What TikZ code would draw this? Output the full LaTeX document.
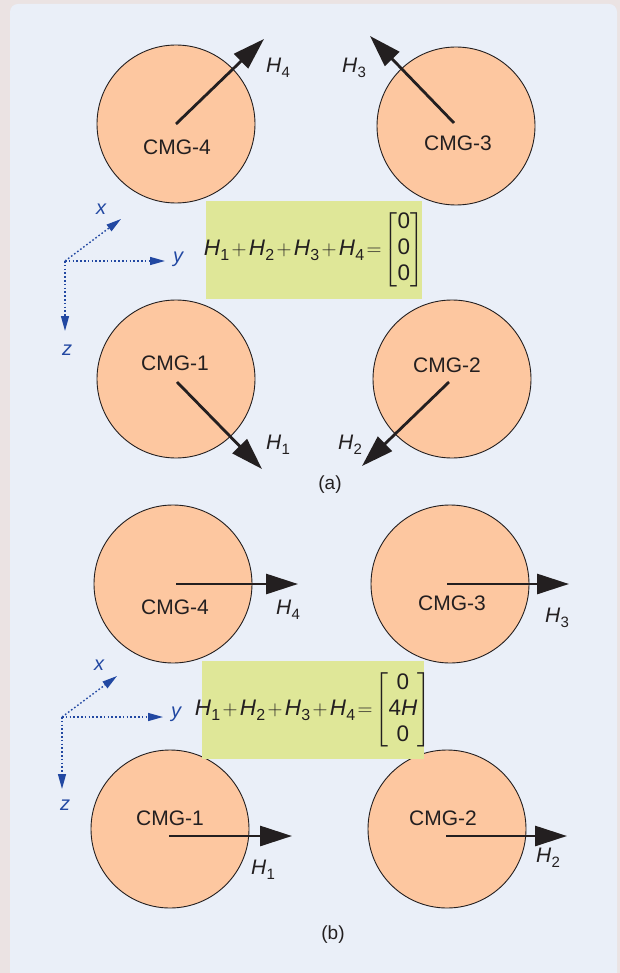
\documentclass[tikz,border=0pt]{standalone}
\usepackage{fontspec}
\setmainfont{Liberation Sans}
\usepackage{amsmath}
\usetikzlibrary{arrows.meta}
\definecolor{outerbg}{HTML}{EBE3E3}
\definecolor{panelbg}{HTML}{EAEFF8}
\definecolor{peach}{HTML}{FDC7A0}
\definecolor{eqbg}{HTML}{DFE798}
\definecolor{axblue}{HTML}{2248A2}
\definecolor{ink}{HTML}{231F20}
\newcommand{\Hsub}[1]{\textit{H}\kern0.3pt\raisebox{-0.45ex}{\fontsize{15}{15}\selectfont #1}}
\newcommand{\Hsubeq}[1]{\textit{H}\kern0.3pt\raisebox{-0.45ex}{\fontsize{16}{16}\selectfont #1}}
\newcommand{\eqsum}[2]{\makebox[#1][c]{\medmuskip=2mu\thickmuskip=2mu$\Hsubeq{1}+\Hsubeq{2}+\Hsubeq{3}+\Hsubeq{4}=\left[\begin{array}{@{}c@{}}#2\end{array}\right]$}}
\tikzset{
  cmg/.style={circle, draw=ink, line width=0.9pt, fill=peach, minimum size=158pt, inner sep=0pt},
  cmgtext/.style={text=ink, font=\fontsize{21}{21}\selectfont, inner sep=0pt},
  hlabel/.style={text=ink, font=\fontsize{21}{21}\selectfont, inner sep=0pt},
  harrow/.style={draw=ink, line width=2.8pt, -{Triangle[length=32pt,width=20pt]}},
  eqbox/.style={fill=eqbg, minimum height=98pt, inner sep=0pt, text=ink, font=\fontsize{22.5}{25}\selectfont},
  axis/.style={draw=axblue, line width=1.4pt, dash pattern=on 1.6pt off 2.2pt, -{Triangle[length=15pt,width=8pt]}},
  axlabel/.style={text=axblue, font=\fontsize{20}{20}\selectfont\itshape, inner sep=0pt},
  caption/.style={text=ink, font=\fontsize{19}{19}\selectfont, inner sep=0pt}
}
\begin{document}
\begin{tikzpicture}[x=1pt,y=-1pt]
\useasboundingbox (0,0) rectangle (620,973);
\fill[outerbg] (0,0) rectangle (620,973);
\fill[panelbg, rounded corners=8pt] (10,4) rectangle (617,990);

% ---------- (a) ----------
\node[cmg] (a4) at (176,124) {};
\node[cmg] (a3) at (456,126) {};
\node[cmg] (a1) at (176,379) {};
\node[cmg] (a2) at (452,379) {};
\node[cmgtext] (a4t) at (177,147) {CMG-4};
\node[cmgtext] (a3t) at (458,143) {CMG-3};
\node[cmgtext] (a1t) at (175,363) {CMG-1};
\node[cmgtext] (a2t) at (447,365) {CMG-2};
\coordinate (a4e) at (264,39);
\coordinate (a3e) at (370,36);
\coordinate (a1e) at (262,469);
\coordinate (a2e) at (362,466);
\draw[harrow] (a4.center) -- (a4e);
\draw[harrow] (a3.center) ++(-2,-3) coordinate (a3s) (a3s) -- (a3e);
\draw[harrow] (a1.center) ++(1,3) coordinate (a1s) (a1s) -- (a1e);
\draw[harrow] (a2.center) ++(-3,3) coordinate (a2s) (a2s) -- (a2e);
\node[hlabel] (a4l) at (278,68) {\Hsub{4}};
\node[hlabel] (a3l) at (354,68) {\Hsub{3}};
\node[hlabel] (a1l) at (278,445) {\Hsub{1}};
\node[hlabel] (a2l) at (350,445) {\Hsub{2}};
\node[eqbox] (aeq) at (314,250) {\eqsum{216pt}{\text{0}\\[1pt]\text{0}\\[1pt]\text{0}}};
\coordinate (ao) at (65,261);
\coordinate (ax) at (121,219);
\coordinate (ay) at (165,261);
\coordinate (az) at (65,331);
\draw[axis] (ao) -- (ax);
\draw[axis] (ao) -- (ay);
\draw[axis] (ao) -- (az);
\node[axlabel] (axl) at (101,209) {x};
\node[axlabel] (ayl) at (178,259) {y};
\node[axlabel] (azl) at (67,350) {z};
\node[caption] (acap) at (330,485) {(a)};

% ---------- (b) ----------
\node[cmg] (b4) at (173,584) {};
\node[cmg] (b3) at (450,584) {};
\node[cmg] (b1) at (170,829) {};
\node[cmg] (b2) at (447,829) {};
\node[cmgtext] (b4t) at (175,607) {CMG-4};
\node[cmgtext] (b3t) at (452,603) {CMG-3};
\node[cmgtext] (b1t) at (170,818) {CMG-1};
\node[cmgtext] (b2t) at (443,818) {CMG-2};
\coordinate (b4s) at (176,584);
\coordinate (b3s) at (447,584);
\coordinate (b1s) at (169,836);
\coordinate (b2s) at (446,836);
\coordinate (b4e) at (298,584);
\coordinate (b3e) at (569,584);
\coordinate (b1e) at (292,836);
\coordinate (b2e) at (567,836);
\draw[harrow] (b4s) -- (b4e);
\draw[harrow] (b3s) -- (b3e);
\draw[harrow] (b1s) -- (b1e);
\draw[harrow] (b2s) -- (b2e);
\node[hlabel] (b4l) at (288,610) {\Hsub{4}};
\node[hlabel] (b3l) at (557,618) {\Hsub{3}};
\node[hlabel] (b1l) at (263,870) {\Hsub{1}};
\node[hlabel] (b2l) at (548,858) {\Hsub{2}};
\node[eqbox] (beq) at (313,710) {\eqsum{222pt}{\text{0}\\[1pt]\text{4\textit{H}}\\[1pt]\text{0}}};
\coordinate (bo) at (62,717);
\coordinate (bx) at (117,676);
\coordinate (by) at (163,717);
\coordinate (bz) at (62,789);
\draw[axis] (bo) -- (bx);
\draw[axis] (bo) -- (by);
\draw[axis] (bo) -- (bz);
\node[axlabel] (bxl) at (99,665) {x};
\node[axlabel] (byl) at (176,714) {y};
\node[axlabel] (bzl) at (65,805) {z};
\node[caption] (bcap) at (333,935) {(b)};
\end{tikzpicture}
\end{document}
